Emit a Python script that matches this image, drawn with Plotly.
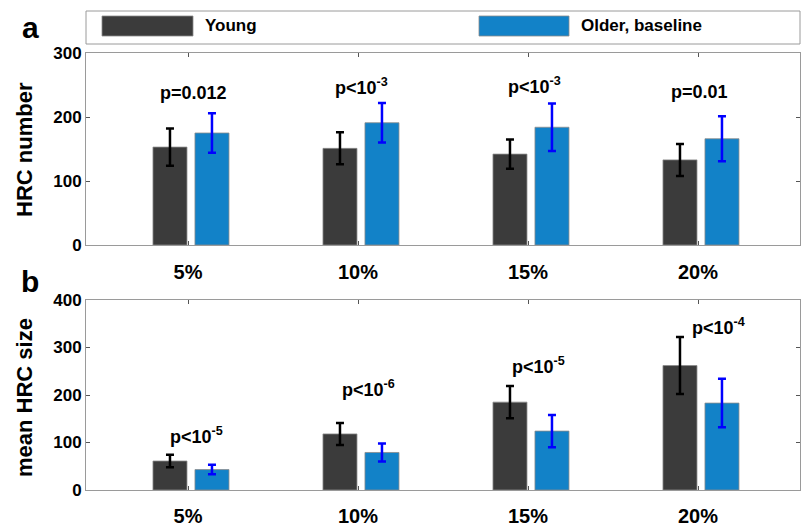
import plotly.graph_objects as go

# Threshold categories (shared by both panels)
categories = ["5%", "10%", "15%", "20%"]
cat_pos = [1, 2, 3, 4]

# Panel a: HRC number
young_num = [153, 151, 142, 133]
young_num_err = [29, 25, 23, 25]
older_num = [175, 191, 184, 166]
older_num_err = [31, 31, 37, 35]
pvals_a = ["p=0.012", "p<10<sup>-3</sup>", "p<10<sup>-3</sup>", "p=0.01"]

# Panel b: mean HRC size
young_size = [61, 118, 185, 262]
young_size_err = [13, 23, 34, 60]
older_size = [43, 79, 124, 183]
older_size_err = [10, 19, 34, 51]
pvals_b = ["p<10<sup>-5</sup>", "p<10<sup>-6</sup>", "p<10<sup>-5</sup>", "p<10<sup>-4</sup>"]

DARK = "#3b3b3b"
BLUE = "#1282c8"
EDGE = "#8a8a8a"
AXIS = "#9a9a9a"
FONT = "Liberation Sans, Arial, sans-serif"

W, H = 802, 527
BAR_W = 0.2


def py(px):
    return 1 - px / H


def pxx(px):
    return px / W


fig = go.Figure()


def add_pair(young, yerr, older, oerr, xa, ya):
    fig.add_trace(go.Bar(
        x=cat_pos, y=young, name="Young", xaxis=xa, yaxis=ya,
        width=BAR_W, offset=-0.206,
        marker=dict(color=DARK, line=dict(color=EDGE, width=0.8)),
        error_y=dict(type="data", array=yerr, color="black", thickness=2.5, width=4),
        showlegend=False,
    ))
    fig.add_trace(go.Bar(
        x=cat_pos, y=older, name="Older, baseline", xaxis=xa, yaxis=ya,
        width=BAR_W, offset=0.041,
        marker=dict(color=BLUE, line=dict(color=EDGE, width=0.8)),
        error_y=dict(type="data", array=oerr, color="#0000ff", thickness=2.5, width=4),
        showlegend=False,
    ))


add_pair(young_num, young_num_err, older_num, older_num_err, "x", "y")
add_pair(young_size, young_size_err, older_size, older_size_err, "x2", "y2")

xdom = [pxx(86), pxx(800)]
common_x = dict(
    domain=xdom, range=[0.4, 4.6], tickmode="array", tickvals=cat_pos,
    ticktext=categories, showline=True, linecolor=AXIS, linewidth=1,
    mirror="ticks", ticks="inside", ticklen=4, tickcolor="#555555",
    showgrid=False, zeroline=False, automargin=False,
    tickfont=dict(family=FONT, size=20, color="black", weight="bold"),
)
common_y = dict(
    showline=True, linecolor=AXIS, linewidth=1, mirror="ticks",
    ticks="inside", ticklen=4, tickcolor="#555555", showgrid=False,
    zeroline=False, automargin=False,
    tickfont=dict(family=FONT, size=17, color="black", weight="bold"),
)

fig.update_layout(
    width=W, height=H,
    margin=dict(l=0, r=0, t=0, b=0, pad=0, autoexpand=False),
    paper_bgcolor="white", plot_bgcolor="white", showlegend=False,
    barmode="overlay",
    xaxis=dict(common_x, anchor="y", ticklabelstandoff=9),
    yaxis=dict(common_y, domain=[py(245), py(53)], range=[0, 300],
               tickvals=[0, 100, 200, 300], anchor="x"),
    xaxis2=dict(common_x, anchor="y2", ticklabelstandoff=8),
    yaxis2=dict(common_y, domain=[py(490), py(300)], range=[0, 400],
                tickvals=[0, 100, 200, 300, 400], anchor="x2"),
)

annotations = []


def label(x, y, text, size, xref="paper", yref="paper", xanchor="center", angle=0):
    annotations.append(dict(
        x=x, y=y, xref=xref, yref=yref, text=text, showarrow=False,
        xanchor=xanchor, yanchor="middle", textangle=angle,
        font=dict(family=FONT, size=size, color="black", weight="bold"),
    ))


# p-value labels
pa_x = [1.03, 2.02, 3.04, 4.01]
pa_y = [237, 248, 249, 239]
for t, x, y in zip(pvals_a, pa_x, pa_y):
    label(x, y, t, 18, "x", "y")
pb_x = [1.05, 2.06, 3.06, 4.12]
pb_y = [115, 213, 263, 345]
for t, x, y in zip(pvals_b, pb_x, pb_y):
    label(x, y, t, 18, "x2", "y2")

# axis titles
label(pxx(24), py(150), "HRC number", 22, angle=-90)
label(pxx(24), py(398), "mean HRC size", 22, angle=-90)

# panel letters
label(pxx(30), py(27), "a", 30)
label(pxx(30), py(281), "b", 30)

# legend entries
label(pxx(203), py(25), "Young", 17, xanchor="left")
label(pxx(579), py(25), "Older, baseline", 17, xanchor="left")

shapes = [
    dict(type="rect", xref="paper", yref="paper", x0=pxx(86), x1=pxx(800), y0=py(44), y1=py(11),
         line=dict(color=AXIS, width=1), fillcolor="white"),
    dict(type="rect", xref="paper", yref="paper", x0=pxx(102), x1=pxx(193), y0=py(36), y1=py(16),
         line=dict(color=EDGE, width=0.8), fillcolor=DARK),
    dict(type="rect", xref="paper", yref="paper", x0=pxx(479), x1=pxx(569), y0=py(36), y1=py(16),
         line=dict(color=EDGE, width=0.8), fillcolor=BLUE),
]

fig.update_layout(annotations=annotations, shapes=shapes)

fig.write_html("out.html")
